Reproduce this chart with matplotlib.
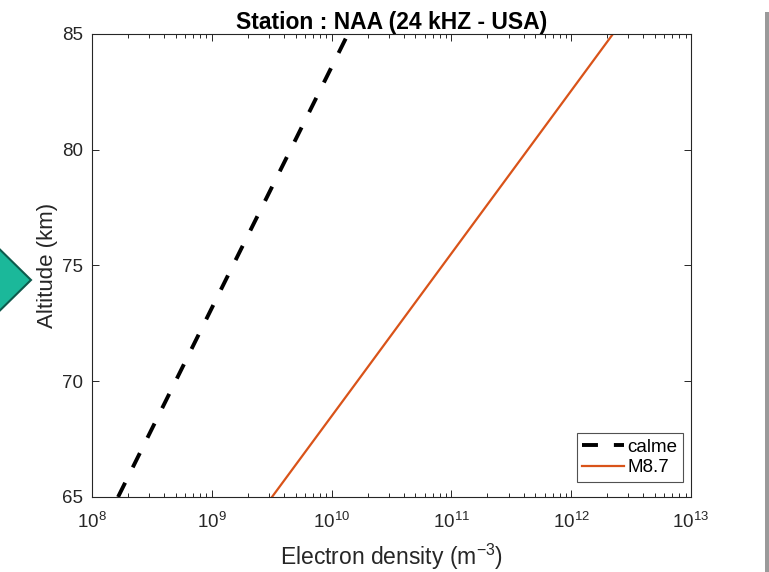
import matplotlib
matplotlib.use("Agg")
import matplotlib.pyplot as plt
from matplotlib.patches import Polygon, Rectangle
import numpy as np

# altitude (km) and electron density (m^-3)
altitude = [65, 70, 75, 80, 85]
calme = [1.65e8, 4.98e8, 1.50e9, 4.54e9, 1.37e10]
m87 = [3.18e9, 1.64e10, 8.43e10, 4.34e11, 2.23e12]

plt.rcParams['font.family'] = ['Liberation Sans', 'DejaVu Sans']

W, H = 769, 572
fig = plt.figure(figsize=(W / 100, H / 100), dpi=100)
ax = fig.add_axes([92 / W, 1 - 497 / H, (691 - 92) / W, (497 - 34) / H])

axcol = '#262626'
dash = (0, (4.1, 4.4))
ax.plot(calme, altitude, color='black', lw=2.8, ls=dash, label='calme')
ax.plot(m87, altitude, color='#D95319', lw=1.6, label='M8.7')

ax.set_xscale('log')
ax.set_xlim(1e8, 1e13)
ax.set_ylim(65, 85)
ax.set_yticks([65, 70, 75, 80, 85])
ax.set_xticks([1e8, 1e9, 1e10, 1e11, 1e12, 1e13])
ax.tick_params(which='both', direction='in', top=True, right=True,
               colors=axcol, labelsize=13.5, labelcolor=axcol)
ax.tick_params(which='major', length=5, width=0.7)
ax.tick_params(which='minor', length=3, width=0.7)
ax.tick_params(axis='x', pad=10.5)
ax.tick_params(axis='y', pad=6.5)
for s in ax.spines.values():
    s.set_color(axcol)
    s.set_linewidth(0.8)

ax.set_title('Station : NAA (24 kHZ - USA)', fontsize=16.5, fontweight='bold', pad=2)
ax.set_xlabel('Electron density (m$^{\\mathregular{-3}}$)', fontsize=16.5, color=axcol, labelpad=7)
ax.set_ylabel('Altitude (km)', fontsize=16, color=axcol, labelpad=3)

leg = ax.legend(loc='lower right', bbox_to_anchor=(683 / W, 1 - 482 / H),
                bbox_transform=fig.transFigure, borderaxespad=0,
                fontsize=13.5, frameon=True, fancybox=False,
                handlelength=2.2, handletextpad=0.2, borderpad=0.3,
                labelspacing=0.2)
leg.get_frame().set_edgecolor(axcol)
leg.get_frame().set_linewidth(0.8)
leg.get_lines()[0].set_linestyle((0, (4.1, 4.1)))

# teal marker partly cut at left edge and grey strip at right edge
fig.patches.append(Polygon([[-20, H - 230], [31, H - 280], [-20, H - 330]], closed=True,
                           transform=None, facecolor='#1BB89A', edgecolor='#0E5A4C',
                           lw=1.5))
fig.patches.append(Rectangle((765 / W, 0), 4 / W, 1 - 12 / H,
                             transform=fig.transFigure, facecolor='#9A9A9A',
                             edgecolor='none'))

fig.savefig('out.png', dpi=100)
